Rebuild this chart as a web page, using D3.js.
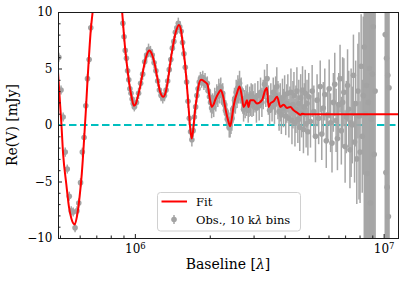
<!DOCTYPE html>
<html>
<head>
<meta charset="utf-8">
<script src="https://cdn.jsdelivr.net/npm/d3@7"></script>
<style>
  body { margin: 0; background: #fff; }
  svg text { font-family: "DejaVu Serif", serif; fill: #000; }
</style>
</head>
<body>
<script>
// fitted model: baseline [k lambda] and Re(V) [mJy]
var fitBase = [
  491, 500, 506, 515, 530, 543, 556, 573, 585, 600,
  612, 625, 635, 645, 655, 665, 675, 690, 720, 760,
  800, 840, 870, 889, 900, 911, 925, 940, 955, 970,
  991, 1010, 1030, 1048, 1075, 1097, 1120, 1142, 1170, 1204,
  1235, 1261, 1301, 1330, 1359, 1390, 1423, 1460, 1504, 1535,
  1561, 1590, 1616, 1645, 1666, 1693, 1720, 1746, 1775, 1800,
  1846, 1916, 1957, 2006, 2038, 2070, 2102, 2167, 2216, 2260,
  2306, 2340, 2378, 2416, 2450, 2491, 2530, 2571, 2634, 2693,
  2734, 2777, 2822, 2864, 2909, 3000, 3096, 3243, 3344, 3396,
  3447, 3503, 3612, 3728, 3843, 3963, 4090, 4217, 4348, 4488,
  4627, 4700, 4848, 11420];
var fitRe = [
  4.7, 2.0, 0.3, -2.6, -5.2, -7.2, -8.3, -8.8, -8.1, -6.3,
  -4.3, -1.3, 1.2, 3.9, 6.3, 8.4, 9.8, 11.8, 16.0, 19.5,
  20.0, 17.5, 13.0, 10.0, 8.5, 7.1, 5.7, 4.4, 3.3, 2.5,
  1.7, 1.9, 2.6, 3.3, 4.6, 5.6, 6.3, 6.6, 6.3, 5.3,
  4.0, 3.0, 2.5, 2.9, 4.0, 5.6, 7.0, 8.2, 8.85, 8.3,
  7.0, 5.5, 3.7, 1.5, -0.1, -1.2, -0.2, 1.3, 2.5, 3.4,
  4.0, 3.8, 3.6, 2.2, 1.6, 1.8, 2.2, 2.8, 3.1, 2.6,
  1.6, 0.9, 0.3, -0.1, 0.5, 1.6, 2.3, 2.8, 3.4, 2.5,
  1.6, 1.8, 2.2, 1.6, 2.2, 2.2, 1.9, 2.2, 3.1, 3.3,
  1.6, 1.9, 2.1, 2.5, 1.6, 1.8, 1.5, 1.6, 1.3, 1.1,
  0.9, 1.0, 0.95, 0.95];

// observations, 10 k lambda bins (bin centre in k lambda)
var obsBase = [
  495, 505, 515, 525, 535, 545, 555, 565, 575, 585,
  595, 605, 615, 625, 635, 645, 655, 665, 675, 685,
  695, 705, 715, 725, 735, 745, 755, 765, 775, 785,
  795, 805, 815, 825, 835, 845, 855, 865, 875, 885,
  895, 905, 915, 925, 935, 945, 955, 965, 975, 985,
  995,
  1015, 1035, 1055, 1075, 1095, 1115, 1135, 1155, 1175, 1195,
  1215, 1235, 1255, 1275, 1295, 1315, 1335, 1355, 1375, 1395,
  1415, 1435, 1455, 1475, 1495, 1515, 1535, 1555, 1575, 1595,
  1615, 1635, 1655, 1675, 1695, 1715, 1735, 1755, 1775, 1795,
  1815, 1835, 1855, 1875, 1895, 1915, 1935, 1955, 1975, 1995,
  2015, 2035, 2055, 2075, 2095, 2115, 2135, 2155, 2175, 2195,
  2215, 2235, 2255, 2275, 2295, 2315, 2335, 2355, 2375, 2395,
  2415, 2435, 2455, 2475, 2495, 2515, 2535, 2555, 2575, 2595,
  2615, 2635, 2655, 2675, 2695, 2715, 2735, 2755, 2775, 2795,
  2815, 2835, 2855, 2875, 2895, 2915, 2935, 2955, 2975, 2995,
  3040, 3080, 3120, 3160, 3200, 3240, 3280, 3320, 3360, 3400,
  3440, 3480, 3520, 3560, 3600, 3640, 3680, 3720, 3760, 3800,
  3840, 3880, 3920, 3960, 4000, 4040, 4080, 4120, 4160, 4200,
  4240, 4280, 4320, 4360, 4400, 4440, 4480, 4520, 4560, 4600,
  4640, 4680, 4720, 4760, 4800, 4840, 4880, 4920, 4960, 5000,
  5080, 5160, 5240, 5320, 5400, 5480, 5560, 5640, 5720, 5800,
  5880, 5960, 6040, 6120, 6200, 6280, 6360, 6440, 6520, 6600,
  6680, 6760, 6840, 6920, 7000, 7080, 7160, 7240, 7320, 7400,
  7480, 7560, 7640, 7720, 7800, 7880, 7960, 8040, 8120, 8200,
  8280, 8360, 8440, 8520, 8600, 8680, 8760, 8840, 8920, 9000,
  9080, 9160, 9240,
  10150, 10210, 10270, 10330, 10390, 10450, 10510];
var obsRe = [
  6.0, 3.1, 0.7, -2.4, -3.9, -6.3, -7.6, -7.7, -9.1, -7.6,
  -6.9, -5.1, -2.4, -1.1, 1.7, 4.1, 5.8, 8.6, 11.0, 12.5,
  14.0, 15.4, 16.6, 17.6, 18.6, 19.2, 19.7, 20.0, 20.1, 19.9,
  19.6, 19.0, 18.3, 17.4, 16.3, 15.2, 13.9, 12.6, 11.3, 10.4,
  9.0, 7.8, 6.6, 5.9, 4.8, 4.0, 3.2, 2.8, 2.3, 1.9,
  1.6,
  2.0, 2.8, 3.7, 4.5, 5.6, 6.2, 6.7, 6.5, 6.2, 5.5,
  4.8, 3.9, 3.1, 2.6, 2.4, 2.6, 3.1, 3.9, 4.9, 5.8,
  6.8, 7.4, 8.2, 8.6, 9.0, 8.7, 8.3, 7.3, 6.3, 5.1,
  3.8, 2.1, 0.6, -0.6, -1.3, -0.5, 0.7, 1.6, 2.6, 3.2,
  3.8, 4.1, 3.9, 4.2, 3.7, 4.0, 3.5, 3.7, 3.0, 2.5,
  2.0, 1.5, 1.9, 1.6, 2.4, 2.1, 2.7, 2.5, 3.2, 2.8,
  3.3, 2.7, 2.8, 2.0, 1.8, 1.3, 1.0, 0.5, 0.4, -0.2,
  0.0, 0.3, 0.6, 1.4, 1.5, 2.2, 2.1, 2.9, 2.6, 3.3,
  3.0, 3.7, 3.0, 3.1, 2.3, 2.1, 1.4, 2.0, 1.7, 2.4,
  1.9, 2.5, 1.3, 1.8, 2.3, 1.9, 2.6, 1.8, 2.5, 1.9,
  2.4, 1.5, 2.6, 1.7, 2.9, 2.0, 2.7, 3.6, 2.9, 4.1,
  2.2, 1.3, 2.4, 1.6, 2.9, 1.8, 2.6, 3.4, 2.2, 1.2,
  2.0, 0.9, 2.4, 1.5, 2.7, 0.8, 1.9, 2.8, 0.6, 1.7,
  2.9, 0.4, 1.8, 2.6, 0.2, 1.4, 3.0, 0.5, 1.9, -0.2,
  2.4, 1.0, 3.1, -0.4, 1.6, 2.8, 0.1, 1.9, -0.6, 2.5,
  0.3, 3.0, 1.2, -1.0, 2.2, 0.6, 3.4, -0.8, 1.5, 2.7,
  -1.4, 0.9, 3.2, 0.2, -1.6, 2.0, 3.6, 0.4, -1.2, 1.8,
  4.1, -0.5, 2.0, 2.9, -1.9, 0.7, 3.5, 1.4, -2.2, 0.2,
  0.0, 4.4, -1.5, 1.9, -3.0, 3.0, 0.8, -2.4, 5.2, -1.0,
  2.6, 6.9, 1.0, 3.5, -4.3, 2.0, 5.0, -6.9, 0.5, 4.5,
  8.7, -2.6, 3.0,
  8.0, -4.2, 5.9, -5.5, 4.4, -8.1, 3.3];
var obsErr = [
  0.4, 0.4, 0.4, 0.4, 0.4, 0.4, 0.4, 0.4, 0.4, 0.4,
  0.4, 0.4, 0.4, 0.4, 0.4, 0.4, 0.4, 0.4, 0.4, 0.4,
  0.4, 0.4, 0.4, 0.4, 0.4, 0.4, 0.4, 0.4, 0.4, 0.4,
  0.4, 0.4, 0.4, 0.4, 0.4, 0.4, 0.4, 0.4, 0.4, 0.4,
  0.4, 0.4, 0.4, 0.4, 0.4, 0.4, 0.4, 0.4, 0.4, 0.4,
  0.4,
  0.5, 0.5, 0.5, 0.5, 0.5, 0.5, 0.5, 0.5, 0.5, 0.5,
  0.5, 0.5, 0.5, 0.5, 0.5, 0.5, 0.5, 0.5, 0.5, 0.5,
  0.5, 0.5, 0.5, 0.5, 0.5, 0.5, 0.5, 0.5, 0.5, 0.5,
  0.6, 0.6, 0.6, 0.6, 0.6, 0.6, 0.6, 0.6, 0.6, 0.6,
  0.6, 0.6, 0.6, 0.6, 0.6, 0.6, 0.6, 0.6, 0.6, 0.6,
  0.9, 0.9, 0.9, 0.9, 0.9, 0.9, 0.9, 0.9, 0.9, 0.9,
  0.9, 0.9, 0.9, 0.9, 0.9, 0.9, 0.9, 0.9, 0.9, 0.9,
  1.1, 1.1, 1.1, 1.1, 1.1, 1.1, 1.1, 1.1, 1.1, 1.1,
  1.1, 1.1, 1.1, 1.1, 1.1, 1.1, 1.1, 1.1, 1.1, 1.1,
  1.1, 1.1, 1.1, 1.1, 1.1, 1.1, 1.1, 1.1, 1.1, 1.1,
  1.3, 1.3, 1.3, 1.3, 1.3, 1.3, 1.3, 1.3, 1.3, 1.3,
  1.3, 1.3, 1.3, 1.3, 1.3, 1.7, 1.7, 1.7, 1.7, 1.7,
  1.7, 1.7, 1.7, 1.7, 1.7, 1.7, 1.7, 1.7, 1.7, 1.7,
  2.1, 2.1, 2.1, 2.1, 2.1, 2.1, 2.1, 2.1, 2.1, 2.1,
  2.1, 2.1, 2.1, 2.1, 2.1, 2.1, 2.1, 2.1, 2.1, 2.1,
  2.3, 2.3, 2.3, 2.3, 2.3, 2.3, 2.3, 2.3, 2.3, 2.3,
  2.4, 2.4, 2.6, 2.6, 2.6, 2.6, 2.8, 2.8, 2.8, 2.8,
  3.0, 3.0, 4.0, 3.0, 3.2, 3.2, 3.2, 3.4, 3.4, 4.8,
  3.4, 3.6, 3.6, 3.8, 4.0, 4.2, 7.4, 4.5, 4.6, 5.0,
  7.0, 18, 22, 25, 20, 24, 19, 23, 21, 26,
  22, 20, 24,
  24, 21, 26, 22, 25, 20, 23];

var yTicks = [-10, -5, 0, 5, 10];
var yMinor = [-9, -8, -7, -6, -4, -3, -2, -1, 1, 2, 3, 4, 6, 7, 8, 9];
var xTicks = [1e6, 1e7];
var xMinor = [5e5, 6e5, 7e5, 8e5, 9e5, 2e6, 3e6, 4e6, 5e6, 6e6, 7e6, 8e6, 9e6];

var margin = {top: 12, right: 9, bottom: 43, left: 58},
    width = 407 - margin.left - margin.right,
    height = 281 - margin.top - margin.bottom;

var x = d3.scaleLog().domain([4.91e5, 1.142e7]).range([0, width]);
var y = d3.scaleLinear().domain([-10, 10]).range([height, 0]);

var svg = d3.select("body").append("svg")
    .attr("width", 407)
    .attr("height", 281);

var g = svg.append("g")
    .attr("transform", "translate(" + margin.left + "," + margin.top + ")");

g.append("clipPath").attr("id", "plotclip")
  .append("rect").attr("width", width).attr("height", height);

var plot = g.append("g").attr("clip-path", "url(#plotclip)");

// zero level
plot.append("line")
    .attr("x1", 0).attr("x2", width)
    .attr("y1", y(0)).attr("y2", y(0))
    .attr("stroke", "#00bfbf")
    .attr("stroke-width", 2)
    .attr("stroke-dasharray", "7.5,3.5");

var obs = obsBase.map(function(b, i) {
  return {b: b * 1000, v: obsRe[i], e: obsErr[i]};
});

plot.selectAll(".ebar")
    .data(obs)
  .enter().append("line")
    .attr("class", "ebar")
    .attr("x1", function(d) { return x(d.b); })
    .attr("x2", function(d) { return x(d.b); })
    .attr("y1", function(d) { return y(d.v - d.e); })
    .attr("y2", function(d) { return y(d.v + d.e); })
    .attr("stroke", "#a6a6a6")
    .attr("stroke-width", 1.5);

plot.selectAll(".dot")
    .data(obs)
  .enter().append("circle")
    .attr("class", "dot")
    .attr("cx", function(d) { return x(d.b); })
    .attr("cy", function(d) { return y(d.v); })
    .attr("r", 2.8)
    .attr("fill", "#a3a3a3");

var fit = fitBase.map(function(b, i) { return {b: b * 1000, v: fitRe[i]}; });

plot.append("path")
    .datum(fit)
    .attr("fill", "none")
    .attr("stroke", "#ff0000")
    .attr("stroke-width", 2)
    .attr("d", d3.line()
        .x(function(d) { return x(d.b); })
        .y(function(d) { return y(d.v); })
        .curve(d3.curveMonotoneX));

// axes, ticks pointing inward
var axisColor = "#1a1a1a";

g.append("g")
    .attr("transform", "translate(0," + height + ")")
    .call(d3.axisBottom(x).tickValues(xMinor).tickSizeInner(-2.5).tickSizeOuter(0).tickFormat(""))
    .call(function(s) { s.select(".domain").remove(); });

var xAx = g.append("g")
    .attr("transform", "translate(0," + height + ")")
    .call(d3.axisBottom(x).tickValues(xTicks).tickSizeInner(-4).tickSizeOuter(0).tickPadding(6.5));
xAx.selectAll(".tick text")
    .attr("font-size", "12px")
    .each(function(d) {
      var t = d3.select(this);
      t.text(null);
      t.append("tspan").text("10");
      t.append("tspan").attr("dy", "-0.5em").attr("font-size", "8.5px")
        .text(Math.round(Math.log10(d)));
    });

g.append("g")
    .call(d3.axisLeft(y).tickValues(yMinor).tickSizeInner(-2.5).tickSizeOuter(0).tickFormat(""))
    .call(function(s) { s.select(".domain").remove(); });

var yAx = g.append("g")
    .call(d3.axisLeft(y).tickValues(yTicks).tickSizeInner(-4).tickSizeOuter(0).tickPadding(5.5));
yAx.selectAll(".tick text").attr("font-size", "12px");

g.selectAll(".tick line").attr("stroke", axisColor);
g.selectAll(".domain").attr("stroke", axisColor);

g.append("rect")
    .attr("x", 0.5).attr("y", 0.5)
    .attr("width", width).attr("height", height)
    .attr("fill", "none")
    .attr("stroke", axisColor);

// axis labels
var xl = svg.append("text")
    .attr("x", margin.left + width / 2)
    .attr("y", 269)
    .attr("text-anchor", "middle")
    .attr("font-size", "14px");
xl.append("tspan").text("Baseline [");
xl.append("tspan").attr("font-style", "italic").text("λ");
xl.append("tspan").text("]");

svg.append("text")
    .attr("transform", "translate(17," + (margin.top + height / 2) + ") rotate(-90)")
    .attr("text-anchor", "middle")
    .attr("font-size", "14px")
    .text("Re(V) [mJy]");

// legend
var lg = svg.append("g");
lg.append("rect")
    .attr("x", 157.5).attr("y", 192.5)
    .attr("width", 143).attr("height", 38.5)
    .attr("rx", 3)
    .attr("fill", "#fff").attr("fill-opacity", 0.8)
    .attr("stroke", "#d0d0d0");
lg.append("line")
    .attr("x1", 161.5).attr("x2", 187)
    .attr("y1", 201.5).attr("y2", 201.5)
    .attr("stroke", "#ff0000").attr("stroke-width", 2);
lg.append("text")
    .attr("x", 196).attr("y", 205.5)
    .attr("font-size", "11.5px")
    .text("Fit");
lg.append("line")
    .attr("x1", 174).attr("x2", 174)
    .attr("y1", 215).attr("y2", 224)
    .attr("stroke", "#a6a6a6").attr("stroke-width", 1.5);
lg.append("circle")
    .attr("cx", 174).attr("cy", 219.5).attr("r", 2.8)
    .attr("fill", "#a3a3a3");
var lt = lg.append("text")
    .attr("x", 196).attr("y", 223.5)
    .attr("font-size", "11.5px");
lt.append("tspan").text("Obs., 10 k");
lt.append("tspan").attr("font-style", "italic").text("λ");
lt.append("tspan").text(" bins");
</script>
</body>
</html>
